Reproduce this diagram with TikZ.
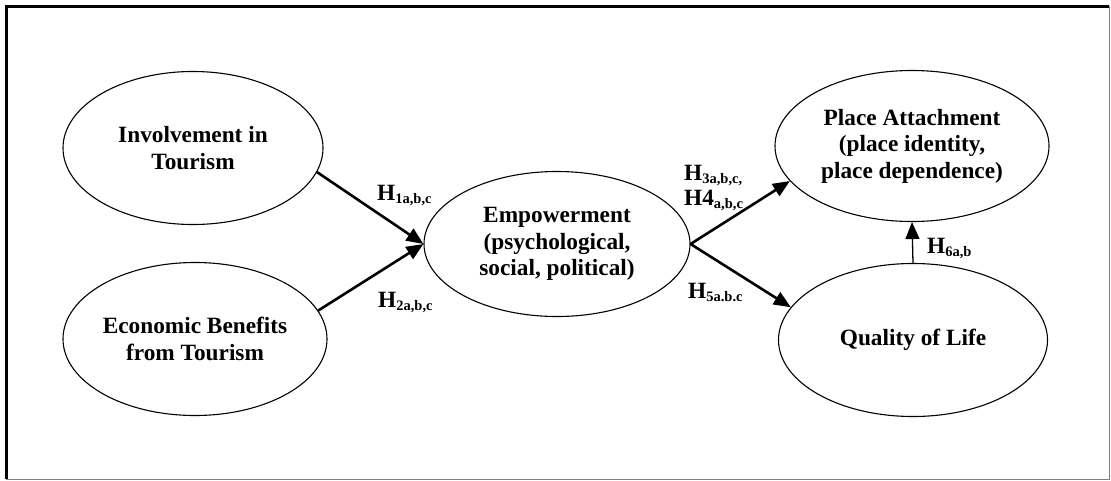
\documentclass[tikz,border=0pt]{standalone}
\usepackage{fontspec}
\setmainfont{Liberation Serif}
\usetikzlibrary{arrows.meta,shapes.geometric}

\newcommand{\hsub}[1]{\raisebox{-3pt}{\fontsize{14.5}{16}\selectfont #1}}

\begin{document}
\begin{tikzpicture}[
    x=1pt, y=-1pt,
    construct/.style={draw, ellipse, line width=1.1pt, inner sep=0pt, align=center,
      font=\fontsize{23.3}{26.5}\selectfont\bfseries},
    hyp/.style={anchor=base west, inner sep=0pt, align=left,
      font=\fontsize{23.3}{25}\selectfont\bfseries},
    arr/.style={-{Triangle[length=17pt,width=14pt]}, line width=2.6pt},
    thinarr/.style={-{Triangle[length=17pt,width=14pt]}, line width=1.3pt}
  ]
    \useasboundingbox (0,0) rectangle (1111,480);
    % frame
    \draw[line width=3pt] (1109,6) -- (6,6) -- (6,479);
    \draw[line width=1pt, gray] (6,479) -- (1109,479) -- (1109,6);

    \node[construct, minimum width=260pt, minimum height=153pt] (inv) at (193,148) {Involvement in\\Tourism};
    \node[construct, minimum width=264pt, minimum height=153pt] (eco) at (195,339) {Economic Benefits\\from Tourism};
    \node[construct, minimum width=266pt, minimum height=145pt] (emp) at (557,244) {Empowerment\\(psychological,\\social, political)};
    \node[construct, minimum width=274pt, minimum height=151pt] (place) at (912,146) {Place Attachment\\(place identity,\\place dependence)};
    \node[construct, minimum width=269pt, minimum height=153pt] (qol) at (913,340) {Quality of Life};

    \draw[arr] (inv.-11) -- (emp.west);
    \draw[arr] (eco.13) -- (emp.west);
    \draw[arr] (emp.east) -- (place.196);
    \draw[arr] (emp.east) -- (qol.165);
    \draw[thinarr] (qol.north) -- (place.south);

    \node[hyp] (h1) at (377,200) {H\hsub{1a,b,c}};
    \node[hyp] (h2) at (378,307) {H\hsub{2a,b,c}};
    \node[hyp] (h3) at (684,180) {H\hsub{3a,b,c,}};
    \node[hyp] (h4) at (684,205) {H4\hsub{a,b,c}};
    \node[hyp] (h5) at (688,298) {H\hsub{5a.b.c}};
    \node[hyp] (h6) at (927,253) {H\hsub{6a,b}};
\end{tikzpicture}
\end{document}
